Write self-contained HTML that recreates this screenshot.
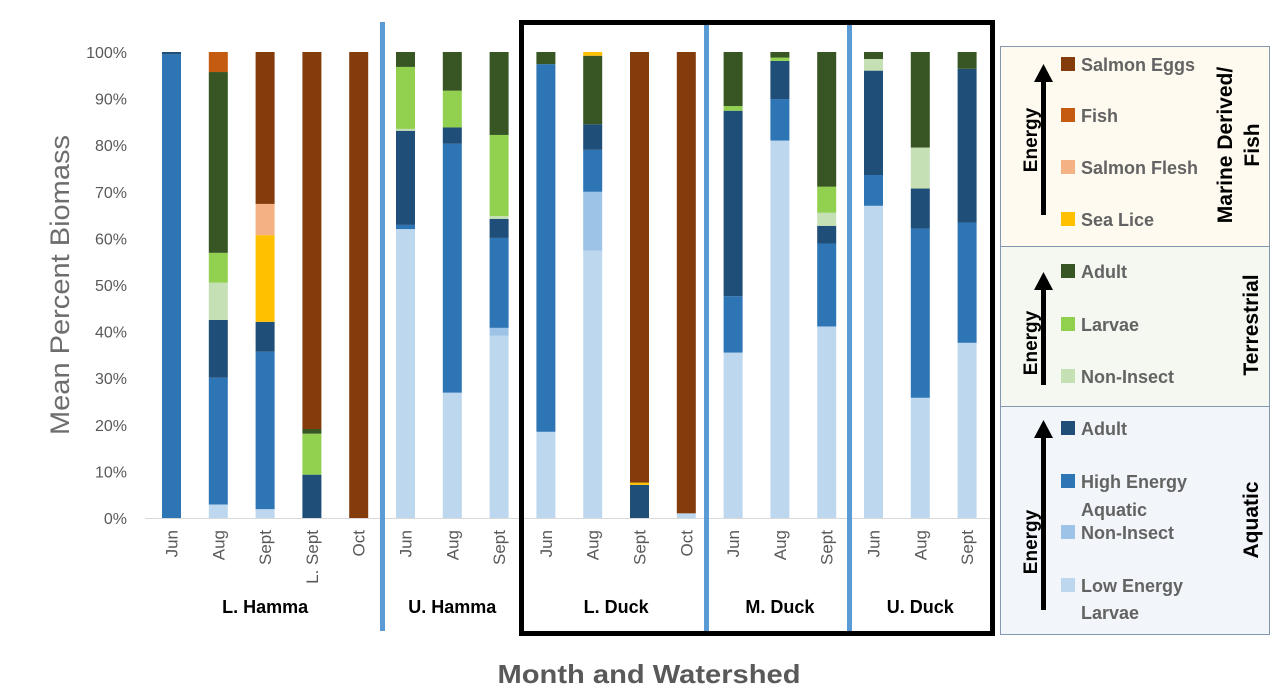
<!DOCTYPE html>
<html><head><meta charset="utf-8">
<style>
body{margin:0;background:#fff;font-family:"Liberation Sans",sans-serif;}
svg text{font-family:"Liberation Sans",sans-serif;}
</style></head>
<body>
<svg id="chart" width="1278" height="695" viewBox="0 0 1278 695" xmlns="http://www.w3.org/2000/svg">
<g id="yaxis"></g>
<g id="bars"></g>
<g id="xlabels"></g>
<text x="0" y="0" transform="translate(69,285) rotate(-90)" text-anchor="middle" font-size="27" fill="#6d6d6d" textLength="300" lengthAdjust="spacingAndGlyphs">Mean Percent Biomass</text>
<text x="649" y="683" text-anchor="middle" font-size="26" font-weight="bold" fill="#595959" textLength="303" lengthAdjust="spacingAndGlyphs">Month  and Watershed</text>
<rect x="380" y="22" width="5" height="609" fill="#5b9bd5"/>
<rect x="704" y="22" width="5" height="609" fill="#5b9bd5"/>
<rect x="847" y="22" width="5" height="609" fill="#5b9bd5"/>
<rect x="521.5" y="22.5" width="471" height="611" fill="none" stroke="#000" stroke-width="5"/>
<g>
<rect x="1000.5" y="46.5" width="269" height="200" fill="#fefaf0" stroke="#8497b0"/>
<rect x="1000.5" y="246.5" width="269" height="160" fill="#f4f8f1" stroke="#8497b0"/>
<rect x="1000.5" y="406.5" width="269" height="228" fill="#f2f6fa" stroke="#8497b0"/>
<g id="legendItems"></g>
<g fill="#000">
<rect x="1041" y="80" width="5" height="135"/><polygon points="1034,82 1053,82 1043.5,64"/>
<rect x="1041" y="288" width="5" height="97"/><polygon points="1034,290 1053,290 1043.5,272"/>
<rect x="1041" y="436" width="5" height="174"/><polygon points="1034,438 1053,438 1043.5,420"/>
</g>
<text transform="translate(1037,140) rotate(-90)" text-anchor="middle" font-size="19" font-weight="bold">Energy</text>
<text transform="translate(1037,343) rotate(-90)" text-anchor="middle" font-size="19" font-weight="bold">Energy</text>
<text transform="translate(1037,542) rotate(-90)" text-anchor="middle" font-size="19" font-weight="bold">Energy</text>
<text transform="translate(1232,145) rotate(-90)" text-anchor="middle" font-size="21" font-weight="bold">Marine Derived/</text>
<text transform="translate(1259,145) rotate(-90)" text-anchor="middle" font-size="21" font-weight="bold">Fish</text>
<text transform="translate(1258,325) rotate(-90)" text-anchor="middle" font-size="21" font-weight="bold">Terrestrial</text>
<text transform="translate(1258,520) rotate(-90)" text-anchor="middle" font-size="21" font-weight="bold">Aquatic</text>
</g>
</svg>
<script>
const categories = ["Jun","Aug","Sept","L. Sept","Oct","Jun","Aug","Sept","Jun","Aug","Sept","Oct","Jun","Aug","Sept","Jun","Aug","Sept"];
const seriesNames = ["Low Energy Larvae","Aquatic Non-Insect","High Energy Aquatic","Aquatic Adult","Terrestrial Non-Insect","Terrestrial Larvae","Terrestrial Adult","Sea Lice","Salmon Flesh","Fish","Salmon Eggs"];
const seriesColors = ["#bdd7ee","#9dc3e6","#2e75b6","#1f4e79","#c5e0b4","#92d050","#375623","#ffc000","#f4b183","#c55a11","#843c0c"];
const lowEnergyLarvae = [0,2.9,1.9,0,0,62,26.9,39.1,18.5,57.4,0,1,35.5,81,41.1,67,25.8,37.6];
const aquaticNonInsect = [0,0,0,0,0,0,0,1.7,0,12.6,0,0,0,0,0,0,0,0];
const highEnergyAquatic = [99.5,27.2,33.8,0,0,0.9,53.4,19.3,78.9,9,0,0,12.1,8.9,17.8,6.6,36.3,25.8];
const aquaticAdult = [0.5,12.4,6.4,9.3,0,20.2,3.5,4.1,0,5.5,7.1,0,39.8,8.2,3.8,22.4,8.6,33];
const terrestrialNonInsect = [0,8,0,0,0,0.4,0,0.6,0,0,0,0,0,0,2.8,2.5,8.8,0];
const terrestrialLarvae = [0,6.4,0,8.8,0,13.3,7.9,17.4,0,0,0,0,1,0.7,5.6,0,0,0];
const terrestrialAdult = [0,38.8,0,1,0,3.2,8.3,17.8,2.6,14.7,0,0,11.6,1.2,28.9,1.5,20.5,3.6];
const seaLice = [0,0,18.6,0,0,0,0,0,0,0.8,0.5,0,0,0,0,0,0,0];
const salmonFlesh = [0,0,6.7,0,0,0,0,0,0,0,0,0,0,0,0,0,0,0];
const fish = [0,4.3,0,0,0,0,0,0,0,0,0,0,0,0,0,0,0,0];
const salmonEggs = [0,0,32.6,80.9,100,0,0,0,0,0,92.4,99,0,0,0,0,0,0];
const yTicks = [0,10,20,30,40,50,60,70,80,90,100];
const groupNames = ["L. Hamma","U. Hamma","L. Duck","M. Duck","U. Duck"];
const groupStarts = [0,5,8,12,15];
const groupEnds = [4,7,11,14,17];

const series = [lowEnergyLarvae,aquaticNonInsect,highEnergyAquatic,aquaticAdult,terrestrialNonInsect,terrestrialLarvae,terrestrialAdult,seaLice,salmonFlesh,fish,salmonEggs];
const NS="http://www.w3.org/2000/svg";
const y0=518, y1=52;
function yScale(v){return y0-(y0-y1)*v/100;}
function xScale(i){return 171.5+i*46.8;}
const bw=19;
function mk(tag,attrs,parent){const e=document.createElementNS(NS,tag);for(const k in attrs)e.setAttribute(k,attrs[k]);parent.appendChild(e);return e;}

const ya=document.getElementById('yaxis');
const base=mk('line',{x1:145,x2:992,y1:y0+0.5,y2:y0+0.5,stroke:'#d9d9d9'},ya);


yTicks.forEach(t=>{
  const tx=mk('text',{x:127,y:yScale(t)+6,'text-anchor':'end','font-size':16,fill:'#595959'},ya);
  tx.textContent=t+'%';
  
  
});

const bars=document.getElementById('bars');
categories.forEach((c,i)=>{
  let acc=0;
  series.forEach((s,k)=>{
    const v=s[i]; if(v<=0) return;
    const top=yScale(acc+v), bot=yScale(acc);
    const r=mk('rect',{x:xScale(i)-bw/2,y:top,width:bw,height:bot-top,fill:seriesColors[k]},bars);
    
    
    acc+=v;
  });
});

const xl=document.getElementById('xlabels');
categories.forEach((c,i)=>{
  const t=mk('text',{transform:`translate(${xScale(i)+6},530) rotate(-90)`,'text-anchor':'end','font-size':17,fill:'#595959'},xl);
  t.textContent=c;
  
  
});
groupNames.forEach((g,k)=>{
  const cx=(xScale(groupStarts[k])+xScale(groupEnds[k]))/2;
  const t=mk('text',{x:cx,y:613,'text-anchor':'middle','font-size':18,'font-weight':'bold',fill:'#000'},xl);
  t.textContent=g;
  
  
});

const legendLabels=[["Salmon Eggs",64,10],["Fish",115,9],["Salmon Flesh",167,8],["Sea Lice",219,7],["Adult",271,6],["Larvae",324,5],["Non-Insect",376,4],["Adult",428,3],["High Energy",481,2],["Aquatic",509,-1],["Non-Insect",532,1],["Low Energy",585,0],["Larvae",612,-1]];
const li=document.getElementById('legendItems');
legendLabels.forEach(([txt,y,k])=>{
  if(k>=0){
    const s=mk('rect',{x:1061,y:y-7,width:14,height:14,fill:seriesColors[k]},li);
    
    
  }
  const t=mk('text',{x:1081,y:y+7,'font-size':18,'font-weight':'bold',fill:'#636363'},li);
  t.textContent=txt;
  
  
});
</script>
</body></html>
